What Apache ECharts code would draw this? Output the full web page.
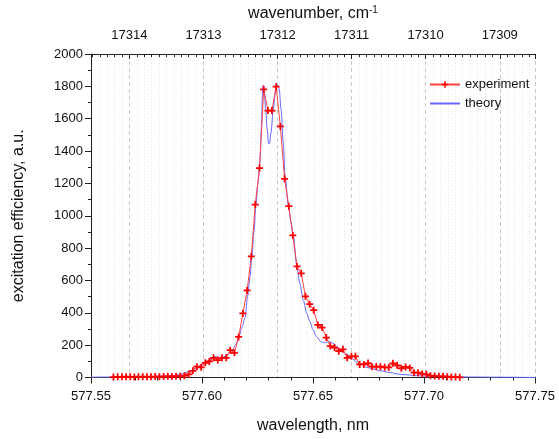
<!DOCTYPE html>
<html><head><meta charset="utf-8">
<script src="https://cdn.jsdelivr.net/npm/echarts@6/dist/echarts.min.js"></script>
<style>html,body{margin:0;padding:0;background:#fff}#c{width:559px;height:439px}</style>
</head><body><div id="c"></div>
<script>
// experiment: wavelength (nm) and excitation efficiency (a.u.)
const expX = [577.5601,577.5620,577.5639,577.5658,577.5677,577.5695,577.5714,577.5733,577.5752,577.5770,
577.5789,577.5808,577.5827,577.5846,577.5864,577.5883,577.5902,577.5921,577.5940,577.5959,
577.5977,577.5996,577.6015,577.6033,577.6052,577.6071,577.6090,577.6109,577.6127,577.6146,
577.6165,577.6184,577.6203,577.6222,577.6240,577.6259,577.6278,577.6297,577.6315,577.6334,
577.6353,577.6372,577.6391,577.6409,577.6428,577.6447,577.6466,577.6485,577.6503,577.6522,
577.6541,577.6560,577.6578,577.6597,577.6616,577.6635,577.6654,577.6673,577.6691,577.6710,
577.6729,577.6748,577.6766,577.6785,577.6804,577.6823,577.6841,577.6860,577.6879,577.6898,
577.6917,577.6936,577.6955,577.6973,577.6992,577.7011,577.7029,577.7048,577.7067,577.7086,
577.7105,577.7123,577.7142,577.7161];
const expY = [3,4,4,5,4,3,5,4,5,4,
6,5,6,7,6,8,7,11,20,41,
67,63,91,99,122,108,122,122,169,153,
251,396,538,749,1069,1295,1782,1650,1650,1798,
1552,1228,1059,878,687,644,502,453,416,325,
309,247,194,185,163,174,122,131,131,81,
81,89,67,68,67,63,62,88,75,57,
65,59,30,30,22,20,11,9,7,7,
5,3,3,1];
// theory
const theoX = [577.5500,577.5586,577.5676,577.5766,577.5833,577.5878,577.5910,577.5946,577.5968,577.5991,
577.6014,577.6036,577.6054,577.6068,577.6081,577.6099,577.6117,577.6135,577.6153,577.6167,
577.6180,577.6194,577.6206,577.6216,577.6225,577.6234,577.6243,577.6252,577.6261,577.6268,
577.6272,577.6275,577.6279,577.6287,577.6293,577.6300,577.6304,577.6311,577.6321,577.6332,
577.6340,577.6348,577.6356,577.6366,577.6374,577.6389,577.6401,577.6411,577.6427,577.6441,
577.6456,577.6472,577.6486,577.6500,577.6517,577.6535,577.6550,577.6563,577.6577,577.6590,
577.6608,577.6626,577.6652,577.6674,577.6697,577.6719,577.6742,577.6766,577.6802,577.6847,
577.6892,577.6937,577.6982,577.7041,577.7117,577.7194,577.7342,577.7500];
const theoY = [2,3,4,6,9,15,22,40,55,72,
90,110,130,126,120,128,145,165,205,255,
310,370,508,620,750,900,1069,1200,1330,1550,
1741,1805,1790,1661,1540,1447,1445,1515,1659,1782,
1810,1782,1660,1453,1248,1063,960,878,693,580,
480,396,345,295,251,222,214,218,222,212,
190,168,145,118,95,83,63,55,42,30,
20,15,10,8,5,3,2,0];
const bottomTicks = [577.55, 577.60, 577.65, 577.70, 577.75];
const topTicks = [17314, 17313, 17312, 17311, 17310, 17309];
const yTicks = [0,200,400,600,800,1000,1200,1400,1600,1800,2000];

const chart = echarts.init(document.getElementById('c'), null, {renderer:'canvas'});
const F = 'Liberation Sans, Arial, sans-serif';
const nuMin = 1e7/577.75, nuMax = 1e7/577.55;
const axisCol = '#222';
chart.setOption({
  animation:false,
  backgroundColor:'#fff',
  textStyle:{fontFamily:F},
  grid:{left:91,right:24,top:53,bottom:61.5,containLabel:false},
  legend:{
    data:[{name:'experiment'},{name:'theory',itemStyle:{opacity:0}}],
    orient:'vertical', left:429, top:78, padding:0,
    itemWidth:30, itemHeight:8, itemGap:6,
    textStyle:{fontFamily:F,fontSize:13,color:'#111'}
  },
  xAxis:[{
    type:'value', position:'bottom', min:bottomTicks[0], max:bottomTicks[bottomTicks.length-1], interval:0.05,
    name:'wavelength, nm', nameLocation:'middle', nameGap:40,
    nameTextStyle:{fontFamily:F,fontSize:16,color:'#111'},
    axisLine:{show:true,onZero:false,lineStyle:{color:axisCol,width:1}},
    axisTick:{show:true,inside:false,length:6,lineStyle:{color:axisCol}},
    minorTick:{show:true,splitNumber:5,length:3,lineStyle:{color:axisCol}},
    axisLabel:{fontFamily:F,fontSize:13,color:'#111',margin:12,
      formatter:v=>{const t=bottomTicks.find(b=>Math.abs(b-v)<1e-6);return t===undefined?'':t.toFixed(2);}},
    splitLine:{show:false}
  },{
    type:'value', position:'top', inverse:true, min:nuMin, max:nuMax, minInterval:1, maxInterval:1, splitNumber:6,
    name:'{a|wavenumber, cm}{s|-1}', nameLocation:'middle', nameGap:31,
    nameTextStyle:{fontFamily:F,fontSize:16,color:'#111',rich:{a:{fontFamily:F,fontSize:16,color:'#111'},s:{fontFamily:F,fontSize:10,color:'#111',verticalAlign:'top',padding:[0,0,8,0]}}},
    axisLine:{show:true,onZero:false,lineStyle:{color:axisCol,width:1}},
    axisTick:{show:true,inside:true,length:5,lineStyle:{color:axisCol}},
    minorTick:{show:true,splitNumber:10,length:3,lineStyle:{color:axisCol}},
    axisLabel:{fontFamily:F,fontSize:13,color:'#111',margin:12,showMinLabel:false,showMaxLabel:false,
      formatter:v=>{const t=topTicks.find(b=>Math.abs(b-v)<1e-6);return t===undefined?'':String(t);}},
    splitLine:{show:true,lineStyle:{color:'#c8c8c8',type:[4,3],width:1}},
    minorSplitLine:{show:true,lineStyle:{color:'#e6e6e6',type:[1,2],width:1}}
  }],
  yAxis:{
    type:'value', min:yTicks[0], max:yTicks[yTicks.length-1], interval:200,
    name:'excitation efficiency, a.u.', nameLocation:'middle', nameGap:64,
    nameTextStyle:{fontFamily:F,fontSize:16,color:'#111'},
    axisLine:{show:true,lineStyle:{color:axisCol,width:1}},
    axisTick:{show:true,inside:false,length:6,lineStyle:{color:axisCol}},
    minorTick:{show:true,splitNumber:2,length:3,lineStyle:{color:axisCol}},
    axisLabel:{fontFamily:F,fontSize:13,color:'#111',margin:8,formatter:v=>String(v)},
    splitLine:{show:false}
  },
  series:[{
    name:'experiment', type:'line', xAxisIndex:0,
    data:expX.map((x,i)=>[x,expY[i]]),
    symbol:'path://M3,0H5V3H8V5H5V8H3V5H0V3H3Z', symbolSize:7, showSymbol:true,
    itemStyle:{color:'#ff0000'},
    lineStyle:{color:'#ff4040',width:1}, z:3
  },{
    name:'theory', type:'line', xAxisIndex:0,
    data:theoX.map((x,i)=>[x,theoY[i]]),
    symbol:'none', smooth:0.3, smoothMonotone:'x',
    itemStyle:{color:'#6666ff'},
    lineStyle:{color:'#6666ff',width:1}, z:2
  }]
});
</script></body></html>
